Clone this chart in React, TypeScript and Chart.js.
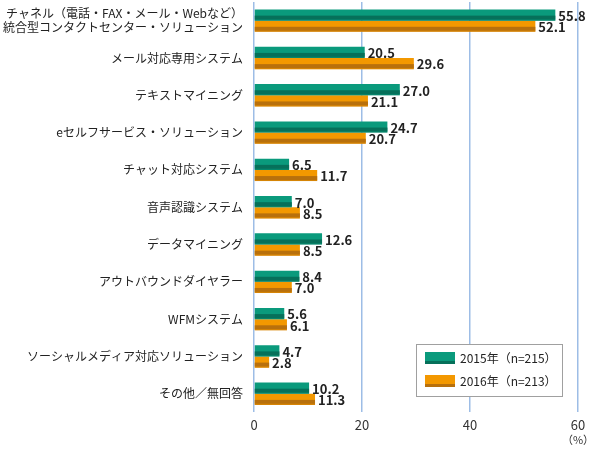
import React, { useEffect, useRef } from "react";
import { Chart, registerables } from "chart.js";

Chart.register(...registerables);

const categories: (string | string[])[] = [
  ["チャネル（電話・FAX・メール・Webなど）", "統合型コンタクトセンター・ソリューション"],
  "メール対応専用システム",
  "テキストマイニング",
  "eセルフサービス・ソリューション",
  "チャット対応システム",
  "音声認識システム",
  "データマイニング",
  "アウトバウンドダイヤラー",
  "WFMシステム",
  "ソーシャルメディア対応ソリューション",
  "その他／無回答",
];
const values2015 = [55.8, 20.5, 27.0, 24.7, 6.5, 7.0, 12.6, 8.4, 5.6, 4.7, 10.2];
const values2016 = [52.1, 29.6, 21.1, 20.7, 11.7, 8.5, 8.5, 7.0, 6.1, 2.8, 11.3];
const seriesLabels = ["2015年（n=215）", "2016年（n=213）"];
const xTicks = [0, 20, 40, 60];

const GREEN = "#0a9a7c";
const GREEN_DARK = "#06705a";
const ORANGE = "#f39800";
const ORANGE_DARK = "#b8700c";
const JP = "'Noto Sans CJK JP', 'Noto Sans', sans-serif";

const overlay = {
  id: "overlay",
  afterDatasetsDraw(chart: any) {
    const ctx = chart.ctx;
    const darks = [GREEN_DARK, ORANGE_DARK];
    chart.data.datasets.forEach((ds: any, di: number) => {
      const meta = chart.getDatasetMeta(di);
      meta.data.forEach((bar: any, i: number) => {
        const { x, y, base, height } = bar.getProps(["x", "y", "base", "height"], true);
        const top = y - height / 2;
        const h = height;
        const left = Math.min(base, x);
        const w = Math.abs(x - base);
        ctx.save();
        ctx.fillStyle = darks[di];
        ctx.fillRect(left, top + h * 0.55, w, h * 0.35);
        ctx.globalAlpha = 0.5;
        ctx.fillRect(left, top + h * 0.9, w, h * 0.1);
        ctx.restore();
        ctx.save();
        ctx.fillStyle = "#222";
        ctx.font = "bold 13px " + JP;
        ctx.textBaseline = "middle";
        ctx.textAlign = "left";
        ctx.fillText(ds.data[i].toFixed(1), x + 3, y + 1);
        ctx.restore();
      });
    });
  },
  afterDraw(chart: any) {
    const ctx = chart.ctx;
    ctx.save();
    ctx.fillStyle = "#fff";
    ctx.fillRect(416, 344, 146, 52);
    ctx.strokeStyle = "#a0a0a0";
    ctx.lineWidth = 1;
    ctx.strokeRect(416.5, 344.5, 146, 52);
    const cols = [GREEN, ORANGE];
    const darks = [GREEN_DARK, ORANGE_DARK];
    seriesLabels.forEach((lab, i) => {
      const sy = 352 + i * 23;
      ctx.fillStyle = cols[i];
      ctx.fillRect(425, sy, 30, 12);
      ctx.fillStyle = darks[i];
      ctx.fillRect(425, sy + 9, 30, 3);
      ctx.fillStyle = "#222";
      ctx.font = "12px " + JP;
      ctx.textBaseline = "middle";
      ctx.textAlign = "left";
      ctx.fillText(lab, 460, sy + 6);
    });
    const xs = chart.scales.x;
    ctx.fillStyle = "#333";
    ctx.font = "11px " + JP;
    ctx.textAlign = "center";
    ctx.textBaseline = "middle";
    ctx.fillText("（%）", xs.getPixelForValue(60), 440);
    ctx.restore();
  },
};

export default function App() {
  const ref = useRef<HTMLCanvasElement>(null);
  useEffect(() => {
    if (!ref.current) return;
    const chart = new Chart(ref.current, {
      type: "bar",
      data: {
        labels: categories,
        datasets: [
          { label: seriesLabels[0], data: values2015, backgroundColor: GREEN, categoryPercentage: 0.6, barPercentage: 1.0 },
          { label: seriesLabels[1], data: values2016, backgroundColor: ORANGE, categoryPercentage: 0.6, barPercentage: 1.0 },
        ],
      },
      options: {
        indexAxis: "y",
        animation: false,
        responsive: true,
        maintainAspectRatio: false,
        layout: { padding: { left: 0, right: 22, top: 2, bottom: 12 } },
        plugins: { legend: { display: false }, tooltip: { enabled: false } },
        scales: {
          x: {
            min: 0,
            max: 60,
            afterBuildTicks: (s: any) => {
              s.ticks = xTicks.map((v) => ({ value: v }));
            },
            afterFit: (s: any) => {
              s.paddingLeft = 0;
              s.paddingRight = 0;
            },
            grid: { color: "#9dbde6", lineWidth: 1.5, drawTicks: false },
            border: { display: false },
            ticks: { color: "#333", font: { size: 13, family: JP }, padding: 5 },
          },
          y: {
            grid: { display: false, drawTicks: false },
            border: { display: false },
            afterFit: (s: any) => {
              s.width = 254;
              s.paddingTop = 0;
              s.paddingBottom = 0;
            },
            ticks: { color: "#222", font: { size: 12, family: JP, lineHeight: 1.15 }, padding: 11, autoSkip: false },
          },
        },
      },
      plugins: [overlay],
    });
    return () => chart.destroy();
  }, []);
  return (
    <div style={{ position: "fixed", left: 0, top: 0, width: 600, height: 450, background: "#fff" }}>
      <canvas ref={ref} />
    </div>
  );
}
